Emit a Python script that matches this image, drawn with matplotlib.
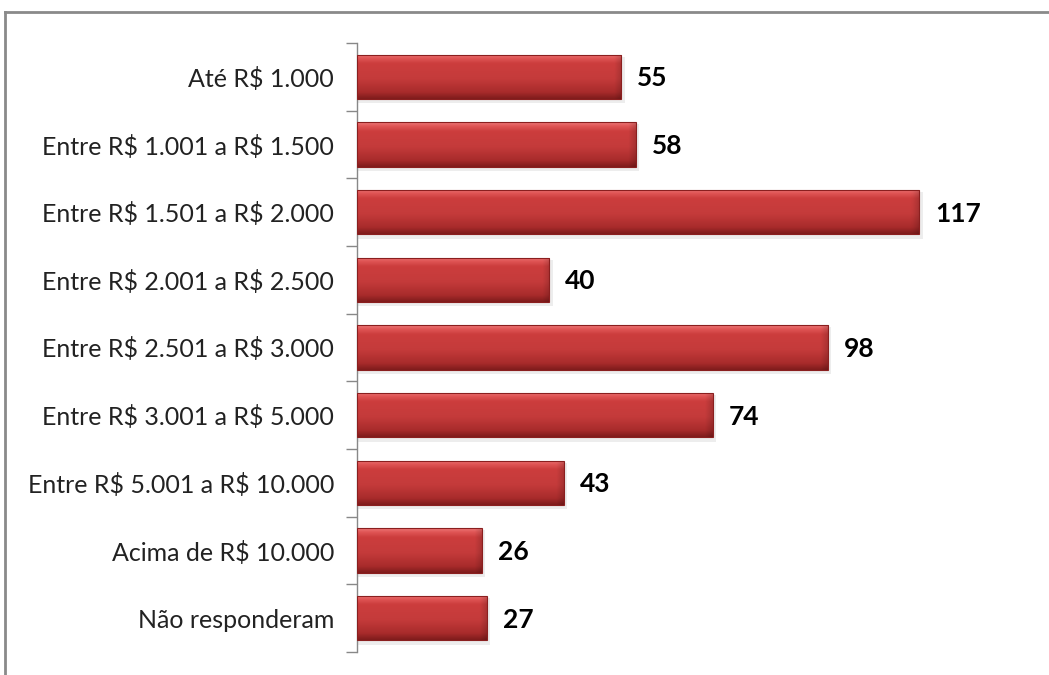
import numpy as np
import matplotlib
matplotlib.use("Agg")
import matplotlib.pyplot as plt
from matplotlib.lines import Line2D
from matplotlib.patches import Rectangle

categories = ["Até R$ 1.000", "Entre R$ 1.001 a R$ 1.500", "Entre R$ 1.501 a R$ 2.000",
              "Entre R$ 2.001 a R$ 2.500", "Entre R$ 2.501 a R$ 3.000", "Entre R$ 3.001 a R$ 5.000",
              "Entre R$ 5.001 a R$ 10.000", "Acima de R$ 10.000", "Não responderam"]
values = [55, 58, 117, 40, 98, 74, 43, 26, 27]

plt.rcParams['font.family'] = ['Lato', 'DejaVu Sans']
plt.rcParams['text.parse_math'] = False

W, H = 1049, 675
fig = plt.figure(figsize=(W / 100, H / 100), dpi=100)
ax_left, ax_right = 357 / W, 1030 / W
ax_top, ax_bot = 1 - 43 / H, 1 - 652 / H
ax = fig.add_axes([ax_left, ax_bot, ax_right - ax_left, ax_top - ax_bot])

n = len(categories)
pos = np.arange(n)
bh = 0.66

# vertical gradient profile (top -> bottom)
stops = np.array([0.0, 0.08, 0.2, 0.55, 0.85, 1.0])
cols = np.array([
    [0.93, 0.47, 0.47],
    [0.88, 0.34, 0.34],
    [0.80, 0.24, 0.24],
    [0.77, 0.23, 0.23],
    [0.66, 0.17, 0.17],
    [0.50, 0.11, 0.11],
])
rows = np.linspace(0, 1, 64)
grad = np.stack([np.interp(rows, stops, cols[:, k]) for k in range(3)], axis=1)

px_per_unit = (ax_right - ax_left) * W / 140.0

bars = ax.barh(pos, values, height=bh, color="#c43a3a", edgecolor="none", zorder=2)
for b, v in zip(bars, values):
    y0 = b.get_y()
    # shadow
    sh = Rectangle((0, y0 + 0.03), v + 0.7, bh + 0.03, facecolor="#000000", alpha=0.07,
                   edgecolor="none", zorder=1)
    ax.add_patch(sh)
    ncols = 200
    xs = np.linspace(0, v, ncols)
    img = np.repeat(grad[:, None, :], ncols, axis=1).copy()
    # right-end bevel darkening
    bev = 7 / px_per_unit
    f = np.clip((v - xs) / bev, 0, 1)
    img = img * (0.85 + 0.15 * f)[None, :, None]
    im = ax.imshow(img, extent=(0, v, y0 + bh, y0), aspect='auto', zorder=3,
                   interpolation='bilinear')
    im.set_clip_path(b)
    ax.add_patch(Rectangle((0, y0), v, bh, facecolor='none', edgecolor='#8a1f1f',
                           linewidth=0.8, zorder=4))
    ax.annotate(str(v), xy=(v, y0 + bh / 2), xytext=(11.5, -1), textcoords='offset points',
                va='center', ha='left', fontsize=19, fontweight='bold', color='black')

ax.set_xlim(0, 140)
ax.set_ylim(n - 0.5, -0.5)
ax.set_yticks(pos)
ax.set_yticklabels(categories, fontsize=18, color='#222222')
ax.set_yticks(np.arange(n + 1) - 0.5, minor=True)
ax.tick_params(axis='y', which='major', length=0, pad=16.5)
ax.tick_params(axis='y', which='minor', length=8, width=1, color='#888888')
ax.set_xticks([])
for s in ['top', 'right', 'bottom']:
    ax.spines[s].set_visible(False)
ax.spines['left'].set_color('#888888')
ax.spines['left'].set_linewidth(1)

# outer frame (top and left)
fig.add_artist(Line2D([5 / W, 1.0], [1 - 12 / H, 1 - 12 / H], transform=fig.transFigure,
                      color='#8a8a8a', linewidth=2))
fig.add_artist(Line2D([5 / W, 5 / W], [0, 1 - 12 / H], transform=fig.transFigure,
                      color='#8a8a8a', linewidth=2))

fig.savefig("out.png", dpi=100)
